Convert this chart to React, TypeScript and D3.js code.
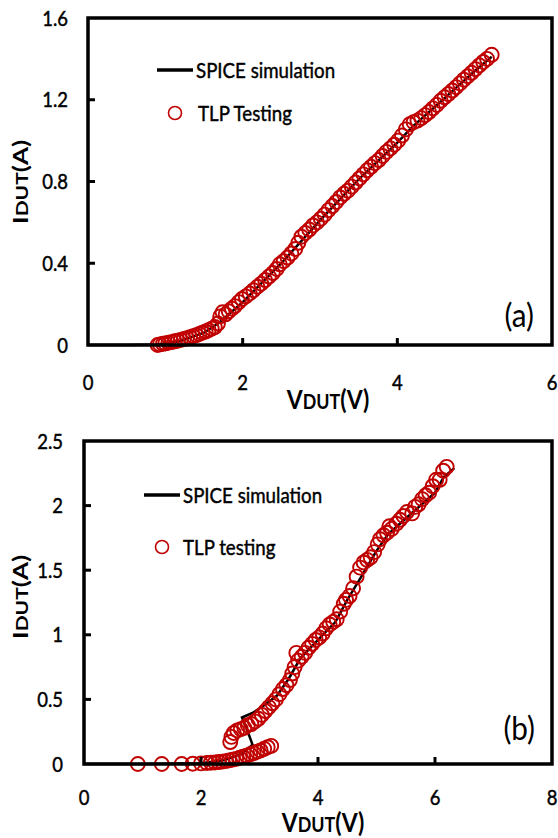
import React from "react";
import * as d3 from "d3";

// ---------- Panel (a) data ----------
const aSpiceV = [0, 0.5, 0.9, 1.2, 1.5, 1.7, 2.0, 2.5, 3.0, 3.5, 4.0, 4.2, 4.5, 5.0, 5.22];
const aSpiceI = [0, 0, 0.003, 0.02, 0.06, 0.11, 0.21, 0.4, 0.61, 0.81, 0.99, 1.07, 1.17, 1.34, 1.41];

const aTlpV = [
  0.9, 0.93, 0.97, 1.0, 1.04, 1.08, 1.12, 1.16, 1.2, 1.24, 1.28, 1.32, 1.36, 1.4, 1.44, 1.48, 1.52, 1.56, 1.6,
  1.64, 1.68, 1.71, 1.74, 1.78, 1.82, 1.86, 1.9, 1.95, 1.99, 2.04, 2.09, 2.14, 2.19, 2.24, 2.29, 2.34, 2.39,
  2.44, 2.48, 2.53, 2.58, 2.63, 2.68, 2.72, 2.76, 2.81, 2.86, 2.91, 2.96, 3.01, 3.06, 3.11, 3.16, 3.21, 3.26,
  3.31, 3.36, 3.41, 3.46, 3.51, 3.56, 3.61, 3.66, 3.71, 3.76, 3.81, 3.86, 3.91, 3.96, 4.01, 4.06, 4.11, 4.16,
  4.21, 4.26, 4.31, 4.36, 4.41, 4.46, 4.51, 4.56, 4.61, 4.66, 4.71, 4.76, 4.81, 4.86, 4.91, 4.96, 5.01, 5.06,
  5.11, 5.16, 5.22,
];
const aTlpI = [
  0.0, 0.003, 0.006, 0.008, 0.011, 0.014, 0.018, 0.021, 0.025, 0.029, 0.033, 0.038, 0.043, 0.048, 0.054, 0.06,
  0.066, 0.073, 0.08, 0.088, 0.105, 0.14, 0.16, 0.15, 0.165, 0.178, 0.19, 0.21, 0.225, 0.238, 0.252, 0.268,
  0.285, 0.3, 0.318, 0.335, 0.352, 0.372, 0.395, 0.41, 0.428, 0.448, 0.47, 0.5, 0.53, 0.548, 0.565, 0.585, 0.6,
  0.618, 0.638, 0.66, 0.68, 0.7, 0.722, 0.74, 0.755, 0.775, 0.795, 0.815, 0.835, 0.855, 0.872, 0.89, 0.905,
  0.925, 0.945, 0.962, 0.98, 1.0, 1.025, 1.055, 1.08, 1.09, 1.098, 1.11, 1.125, 1.14, 1.158, 1.175, 1.195,
  1.212, 1.228, 1.245, 1.262, 1.28, 1.298, 1.315, 1.332, 1.35, 1.368, 1.385, 1.4, 1.42,
];

// ---------- Panel (b) data ----------
const bSpiceV = [0, 1, 2, 2.4, 2.7, 2.88, 2.8, 2.7, 2.9, 3.1, 3.3, 3.5, 3.7, 4.0, 4.3, 4.5, 4.7, 5.0, 5.2, 5.5, 5.8, 6.0, 6.15, 6.33];
const bSpiceI = [0, 0, 0.005, 0.03, 0.08, 0.15, 0.25, 0.36, 0.4, 0.46, 0.53, 0.66, 0.82, 0.96, 1.1, 1.27, 1.42, 1.65, 1.78, 1.9, 2.02, 2.1, 2.22, 2.29];

const bTlpV = [
  0.92, 1.33, 1.67, 1.86, 2.0, 2.1, 2.17, 2.24, 2.3, 2.36, 2.42, 2.48, 2.54, 2.6, 2.66, 2.72, 2.78, 2.84, 2.9,
  2.96, 3.02, 3.08, 3.14, 3.2,
  2.5, 2.52, 2.56, 2.62, 2.68, 2.74, 2.8, 2.86, 2.92, 2.98, 3.04, 3.1, 3.16, 3.22, 3.28, 3.34, 3.4, 3.46, 3.52,
  3.56, 3.6, 3.63, 3.66, 3.72, 3.78, 3.84, 3.9, 3.96, 4.02, 4.08, 4.14, 4.2, 4.26, 4.32, 4.38, 4.44, 4.48, 4.54,
  4.6, 4.66, 4.72, 4.78, 4.84, 4.9, 4.96, 5.02, 5.06, 5.12, 5.18, 5.22, 5.26, 5.34, 5.4, 5.46, 5.52, 5.61, 5.66,
  5.72, 5.78, 5.84, 5.9, 5.96, 6.02, 6.08, 6.14, 6.2,
];
const bTlpI = [
  0, 0, 0, 0.002, 0.005, 0.008, 0.01, 0.012, 0.015, 0.018, 0.022, 0.028, 0.034, 0.04, 0.048, 0.056, 0.065,
  0.075, 0.085, 0.095, 0.105, 0.118, 0.13, 0.14,
  0.17, 0.21, 0.24, 0.26, 0.27, 0.28, 0.3, 0.31, 0.33, 0.35, 0.38, 0.41, 0.44, 0.47, 0.5, 0.54, 0.58, 0.61, 0.65,
  0.7, 0.75, 0.86, 0.8, 0.83, 0.86, 0.9, 0.93, 0.96, 0.98, 1.01, 1.05, 1.08, 1.1, 1.12, 1.18, 1.24, 1.27, 1.3,
  1.36, 1.45, 1.52, 1.56, 1.58, 1.6, 1.64, 1.7, 1.74, 1.77, 1.79, 1.84, 1.82, 1.86, 1.89, 1.92, 1.95, 1.94,
  1.99, 2.01, 2.05, 2.08, 2.1, 2.15, 2.2, 2.2, 2.27, 2.3,
];

const aXTicks = [0, 2, 4, 6];
const aYTicks = [0, 0.4, 0.8, 1.2, 1.6];
const bXTicks = [0, 2, 4, 6, 8];
const bYTicks = [0, 0.5, 1, 1.5, 2, 2.5];

const FONT = "Lato, 'Open Sans', sans-serif";
const RED = "#c00000";

type PanelProps = {
  xDomain: [number, number];
  yDomain: [number, number];
  xRange: [number, number];
  yRange: [number, number];
  xTicks: number[];
  yTicks: number[];
  spiceV: number[];
  spiceI: number[];
  tlpV: number[];
  tlpI: number[];
  yLabelRight: number;
  xLabelBaseline: number;
  xTitle: { cx: number; base: number };
  yTitle: { base: number; cy: number };
  legend: { x1: number; x2: number; ly: number; cx: number; cy: number; tx: number; tlpLabel: string };
  tag: { right: number; base: number; text: string };
  yFmt: (v: number) => string;
};

function Panel(p: PanelProps) {
  const x = d3.scaleLinear().domain(p.xDomain).range(p.xRange);
  const y = d3.scaleLinear().domain(p.yDomain).range(p.yRange);
  const line = d3
    .line<number>()
    .x((_, i) => x(p.spiceV[i]))
    .y((_, i) => y(p.spiceI[i]));
  const [x0, x1] = p.xRange;
  const [y0, y1] = p.yRange;
  const tickLen = 7;
  const textStroke = { stroke: "#000", strokeWidth: 0.45 };
  return (
    <g fontFamily={FONT}>
      {/* SPICE line */}
      <path d={line(p.spiceV) || ""} fill="none" stroke="#000" strokeWidth={2.5} />
      {/* TLP circles */}
      {p.tlpV.map((v, i) => (
        <circle key={i} cx={x(v)} cy={y(p.tlpI[i])} r={7} fill="none" stroke={RED} strokeWidth={1.9} />
      ))}
      {/* frame */}
      <rect x={x0} y={y1} width={x1 - x0} height={y0 - y1} fill="none" stroke="#000" strokeWidth={3.5} />
      {/* ticks */}
      {p.yTicks.slice(1, -1).map((t) => (
        <line key={"yt" + t} x1={x0} x2={x0 + tickLen} y1={y(t)} y2={y(t)} stroke="#000" strokeWidth={3} />
      ))}
      {p.xTicks.slice(1, -1).map((t) => (
        <line key={"xt" + t} x1={x(t)} x2={x(t)} y1={y0} y2={y0 - tickLen} stroke="#000" strokeWidth={3} />
      ))}
      {/* tick labels */}
      {p.yTicks.map((t) => (
        <text
          key={"yl" + t}
          transform={`translate(${p.yLabelRight},${y(t) + 7.5}) scale(0.88,1)`}
          textAnchor="end"
          fontSize={21}
          fill="#000"
          {...textStroke}
        >
          {p.yFmt(t)}
        </text>
      ))}
      {p.xTicks.map((t) => (
        <text
          key={"xl" + t}
          transform={`translate(${x(t)},${p.xLabelBaseline}) scale(0.88,1)`}
          textAnchor="middle"
          fontSize={21}
          fill="#000"
          {...textStroke}
        >
          {t}
        </text>
      ))}
      {/* axis titles */}
      <text
        transform={`translate(${p.xTitle.cx},${p.xTitle.base}) scale(0.85,1)`}
        textAnchor="middle"
        fontWeight="bold"
        fill="#000"
      >
        <tspan fontSize={27}>V</tspan>
        <tspan fontSize={21}>DUT</tspan>
        <tspan fontSize={27}>(V)</tspan>
      </text>
      <text
        transform={`translate(${p.yTitle.base},${p.yTitle.cy}) scale(0.8,1) rotate(-90)`}
        textAnchor="middle"
        fontWeight="bold"
        fill="#000"
      >
        <tspan fontSize={26}>I</tspan>
        <tspan fontSize={21}>DUT</tspan>
        <tspan fontSize={26}>(A)</tspan>
      </text>
      {/* legend */}
      <line x1={p.legend.x1} x2={p.legend.x2} y1={p.legend.ly} y2={p.legend.ly} stroke="#000" strokeWidth={3.5} />
      <text
        transform={`translate(${p.legend.x2 + 3},${p.legend.ly + 8}) scale(0.85,1)`}
        fontSize={22}
        fill="#000"
        {...textStroke}
      >
        SPICE simulation
      </text>
      <circle cx={p.legend.cx} cy={p.legend.cy} r={6.5} fill="none" stroke={RED} strokeWidth={1.6} />
      <text
        transform={`translate(${p.legend.tx},${p.legend.cy + 8}) scale(0.85,1)`}
        fontSize={22}
        fill="#000"
        {...textStroke}
      >
        {p.legend.tlpLabel}
      </text>
      {/* panel tag */}
      <text
        transform={`translate(${p.tag.right},${p.tag.base}) scale(0.9,1)`}
        textAnchor="end"
        fontSize={33}
        fill="#000"
      >
        {p.tag.text}
      </text>
    </g>
  );
}

export default function App() {
  return (
    <svg
      width={558}
      height={838}
      viewBox="0 0 558 838"
      style={{ position: "absolute", left: 0, top: 0, background: "#fff" }}
    >
      <rect x={0} y={0} width={558} height={838} fill="#fff" />
      <Panel
        xDomain={[0, 6]}
        yDomain={[0, 1.6]}
        xRange={[88, 552]}
        yRange={[345, 18]}
        xTicks={aXTicks}
        yTicks={aYTicks}
        spiceV={aSpiceV}
        spiceI={aSpiceI}
        tlpV={aTlpV}
        tlpI={aTlpI}
        yLabelRight={68}
        xLabelBaseline={390}
        xTitle={{ cx: 328, base: 409 }}
        yTitle={{ base: 28, cy: 182 }}
        legend={{ x1: 157, x2: 193, ly: 70, cx: 175, cy: 113, tx: 198, tlpLabel: "TLP Testing" }}
        tag={{ right: 534, base: 327, text: "(a)" }}
        yFmt={(v) => (v === 0 ? "0" : d3.format(".1f")(v))}
      />
      <Panel
        xDomain={[0, 8]}
        yDomain={[0, 2.5]}
        xRange={[84, 552]}
        yRange={[764, 441]}
        xTicks={bXTicks}
        yTicks={bYTicks}
        spiceV={bSpiceV}
        spiceI={bSpiceI}
        tlpV={bTlpV}
        tlpI={bTlpI}
        yLabelRight={63}
        xLabelBaseline={805}
        xTitle={{ cx: 323, base: 832 }}
        yTitle={{ base: 28, cy: 597 }}
        legend={{ x1: 144, x2: 180, ly: 495, cx: 162, cy: 547, tx: 183, tlpLabel: "TLP testing" }}
        tag={{ right: 535, base: 740, text: "(b)" }}
        yFmt={(v) => d3.format("")(v)}
      />
    </svg>
  );
}
